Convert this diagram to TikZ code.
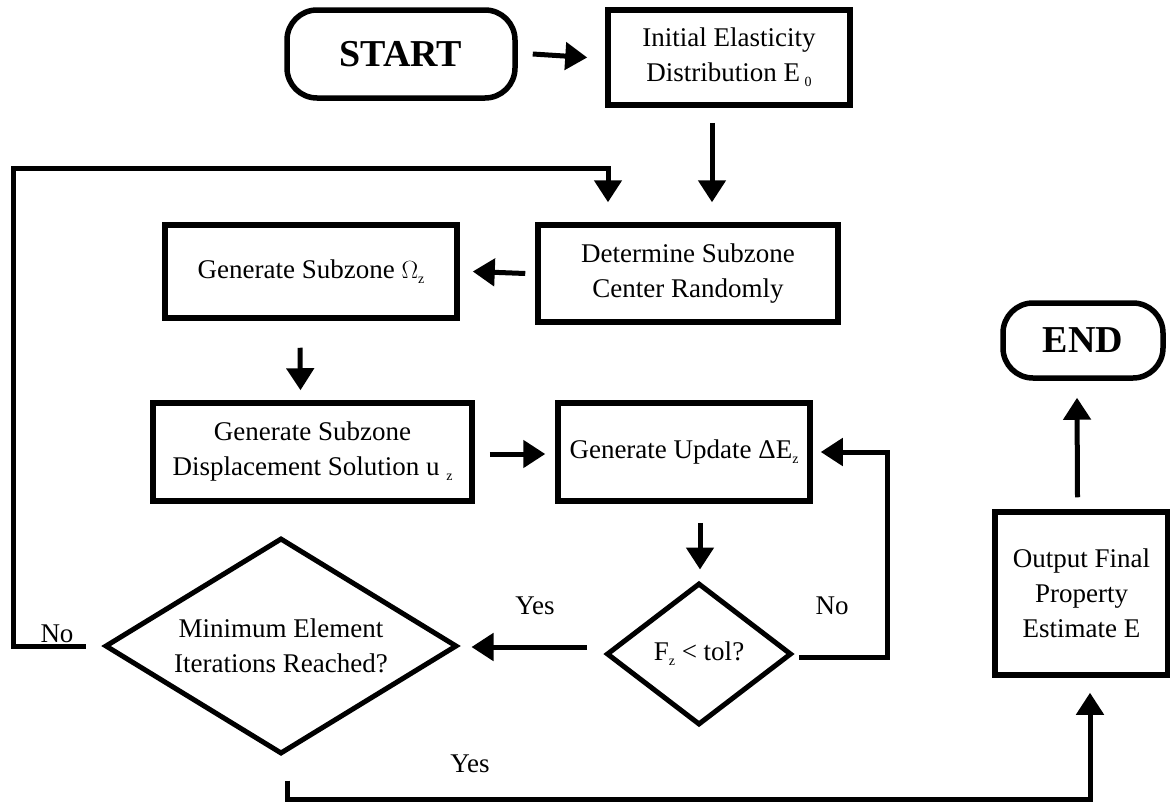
\documentclass[tikz,border=0pt]{standalone}
\usepackage{fontspec}
\setmainfont{Liberation Serif}
\usetikzlibrary{arrows.meta,shapes.geometric,calc}
\newcommand{\sbs}[1]{\raisebox{-5pt}{\fontsize{14}{14}\selectfont #1}}
\tikzset{
  base/.style={draw=black,line width=5.5pt,align=center,inner sep=0pt,font=\fontsize{27}{35}\selectfont},
  box/.style={base,rectangle},
  term/.style={base,rounded corners=30pt,font=\fontsize{38}{40}\selectfont\bfseries},
  dec/.style={base,diamond,line width=5pt},
  arr/.style={line width=5pt,-{Triangle[length=22pt,width=27pt]}},
  lbl/.style={font=\fontsize{27}{35}\selectfont,inner sep=0pt}
}
\begin{document}
\begin{tikzpicture}[x=1pt,y=-1pt]
\useasboundingbox (0,0) rectangle (1170,803);
% nodes
\node[term,minimum width=228pt,minimum height=88pt] (S) at (401,54) {START};
\node[box,minimum width=242pt,minimum height=95pt] (I) at (729,57.5) {Initial Elasticity\\Distribution E\,\sbs{0}};
\node[box,minimum width=300pt,minimum height=97pt] (D) at (688,273.5) {Determine Subzone\\Center Randomly};
\node[box,minimum width=292pt,minimum height=93pt] (G) at (311,271.5) {Generate Subzone $\Omega$\sbs{z}};
\node[box,minimum width=319pt,minimum height=98pt] (P) at (312.5,452) {Generate Subzone\\Displacement Solution u \sbs{z}};
\node[box,minimum width=252pt,minimum height=98pt] (U) at (684,452) {Generate Update ΔE\sbs{z}};
\node[dec,aspect=1.3,minimum width=185pt,minimum height=142pt] (F) at (699,654) {F\sbs{z} < tol?};
\node[dec,aspect=1.62,minimum width=352pt,minimum height=216pt] (M) at (281,646) {Minimum Element\\Iterations Reached?};
\node[box,minimum width=173pt,minimum height=163pt] (O) at (1081.5,593.5) {Output Final\\Property\\Estimate E};
\node[term,minimum width=160pt,minimum height=75pt] (E) at (1083,340.5) {END};
% labels
\node[lbl] (lno1) at (57,634) {No};
\node[lbl] (lyes1) at (535,606) {Yes};
\node[lbl] (lno2) at (832,606) {No};
\node[lbl] (lyes2) at (470,764) {Yes};
% connectors
\coordinate (lc) at (13,168);
\draw[arr] ($(S.east)+(15,0)$) -- ($(I.west)+(-18,0)$);
\draw[arr] ($(I.south)+(-17,15)$) -- ($(D.north)+(24,-20)$);
\draw[arr] ($(M.west)+(-17,0)$) -| (lc) -| ($(D.north)+(-80,-20)$);
\draw[arr] ($(D.west)+(-10,0)$) -- ($(G.east)+(13,0)$);
\draw[arr] ($(G.south)+(-11,27)$) -- ($(P.north)+(-12,-10)$);
\draw[arr] ($(P.east)+(15,2)$) -- ($(U.west)+(-10,2)$);
\draw[arr] ($(U.south)+(16,19)$) -- ($(F.north)+(1,-11)$);
\draw[arr] ($(F.east)+(5,3)$) -| ($(U.east)+(75,0)$) -- ($(U.east)+(8,0)$);
\draw[arr] ($(F.west)+(-17,-7)$) -- ($(M.east)+(12,1)$);
\draw[arr] ($(M.south)+(6,24)$) |- ($(O.south)+(8.5,122)$) -- ($(O.south)+(8.5,15)$);
\draw[arr] ($(O.north)+(-4,-12)$) -- ($(E.south)+(-6,17)$);
\end{tikzpicture}
\end{document}
